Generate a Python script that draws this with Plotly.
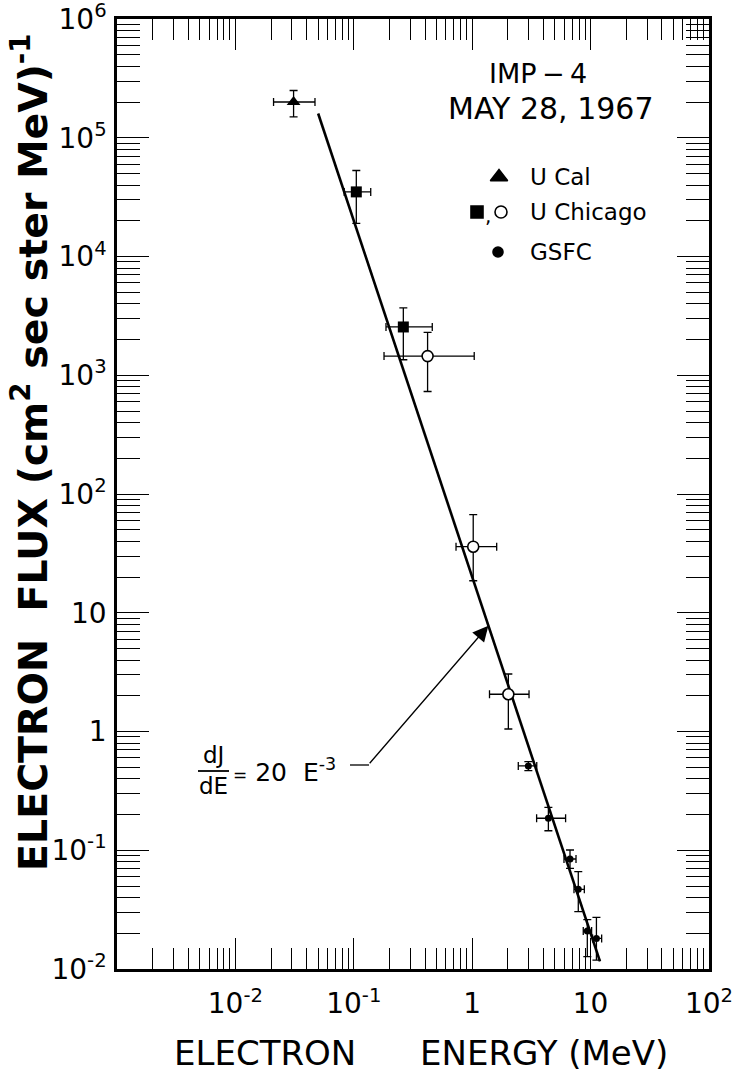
import math
import plotly.graph_objects as go

# ---------------- data ----------------
# U Cal (filled triangle)
ucal_energy = [0.031]
ucal_flux = [2.0e5]
ucal_energy_lo = [0.021]
ucal_energy_hi = [0.047]
ucal_flux_lo = [1.5e5]
ucal_flux_hi = [2.5e5]

# U Chicago, filled squares
chic_sq_energy = [0.105, 0.262]
chic_sq_flux = [3.5e4, 2.55e3]
chic_sq_energy_lo = [0.083, 0.187]
chic_sq_energy_hi = [0.139, 0.46]
chic_sq_flux_lo = [1.9e4, 1.35e3]
chic_sq_flux_hi = [5.3e4, 3.7e3]

# U Chicago, open circles
chic_oc_energy = [0.42, 1.02, 2.02]
chic_oc_flux = [1450, 36, 2.06]
chic_oc_energy_lo = [0.18, 0.73, 1.40]
chic_oc_energy_hi = [1.04, 1.61, 3.02]
chic_oc_flux_lo = [730, 18.6, 1.05]
chic_oc_flux_hi = [2300, 67, 3.05]

# GSFC (small filled dots)
gsfc_energy = [2.98, 4.40, 6.70, 7.87, 9.38, 11.2]
gsfc_flux = [0.513, 0.186, 0.0844, 0.0469, 0.0209, 0.0181]
gsfc_energy_lo = [2.45, 3.50, 5.96, 7.24, 8.67, 10.4]
gsfc_energy_hi = [3.51, 6.15, 7.53, 8.85, 10.2, 12.4]
gsfc_flux_lo = [0.468, 0.146, 0.0705, 0.0304, 0.0127, 0.0119]
gsfc_flux_hi = [0.557, 0.230, 0.1005, 0.066, 0.026, 0.0272]

# power-law fit dJ/dE = 20 E^-3
fit_coeff = 20
fit_index = -3
fit_energy_range = [0.05, 12.0]
arrow_energy = 1.37

# axis ticks
x_tick_vals = [1e-2, 1e-1, 1, 10, 100]
x_tick_text = ["10<sup>-2</sup>", "10<sup>-1</sup>", "1", "10", "10<sup>2</sup>"]
y_tick_vals = [1e-2, 1e-1, 1, 10, 1e2, 1e3, 1e4, 1e5, 1e6]
y_tick_text = ["10<sup>-2</sup>", "10<sup>-1</sup>", "1", "10", "10<sup>2</sup>",
               "10<sup>3</sup>", "10<sup>4</sup>", "10<sup>5</sup>", "10<sup>6</sup>"]

# ---------------- styling ----------------
FONT = "DejaVu Sans"
W, H = 738, 1073
L, R, T, B = 117, 29, 19, 104
PW, PH = W - L - R, H - T - B


def px(xp):
    return (xp - L) / PW


def py(yp):
    return (T + PH - yp) / PH


def series(e, f, elo, ehi, flo, fhi, marker):
    return go.Scatter(
        x=e, y=f, mode="markers", marker=marker, showlegend=False, cliponaxis=False,
        error_x=dict(type="data", symmetric=False,
                     array=[h - v for h, v in zip(ehi, e)],
                     arrayminus=[v - lo for v, lo in zip(e, elo)],
                     color="black", thickness=1.3, width=4),
        error_y=dict(type="data", symmetric=False,
                     array=[h - v for h, v in zip(fhi, f)],
                     arrayminus=[v - lo for v, lo in zip(f, flo)],
                     color="black", thickness=1.3, width=4),
    )


fig = go.Figure()

fit_flux = [fit_coeff * e ** fit_index for e in fit_energy_range]
fig.add_trace(go.Scatter(x=fit_energy_range, y=fit_flux, mode="lines",
                         line=dict(color="black", width=2.6), showlegend=False))

fig.add_trace(series(ucal_energy, ucal_flux, ucal_energy_lo, ucal_energy_hi,
                     ucal_flux_lo, ucal_flux_hi,
                     dict(symbol="triangle-up", size=12, color="black")))
fig.add_trace(series(chic_sq_energy, chic_sq_flux, chic_sq_energy_lo, chic_sq_energy_hi,
                     chic_sq_flux_lo, chic_sq_flux_hi,
                     dict(symbol="square", size=11, color="black")))
fig.add_trace(series(chic_oc_energy, chic_oc_flux, chic_oc_energy_lo, chic_oc_energy_hi,
                     chic_oc_flux_lo, chic_oc_flux_hi,
                     dict(symbol="circle", size=11, color="white",
                          line=dict(color="black", width=1.6))))
fig.add_trace(series(gsfc_energy, gsfc_flux, gsfc_energy_lo, gsfc_energy_hi,
                     gsfc_flux_lo, gsfc_flux_hi,
                     dict(symbol="circle", size=7, color="black")))

# legend keys drawn on an overlay unit axis
legend_keys = [
    (px(499), py(177), "triangle-up", 15, "black", "black"),
    (px(477), py(212), "square", 12, "black", "black"),
    (px(501), py(212), "circle", 12, "white", "black"),
    (px(498), py(252), "circle", 10, "black", "black"),
]
for kx, ky, sym, size, fill, edge in legend_keys:
    fig.add_trace(go.Scatter(x=[kx], y=[ky], xaxis="x2", yaxis="y2", mode="markers",
                             marker=dict(symbol=sym, size=size, color=fill,
                                         line=dict(color=edge, width=1.6)),
                             showlegend=False, cliponaxis=False))

minor_x = [m * 10.0 ** k for k in range(-3, 2) for m in range(2, 10)]
minor_y = [m * 10.0 ** k for k in range(-2, 6) for m in range(2, 10)]

axis_common = dict(type="log", showline=True, linecolor="black", linewidth=2.5,
                   mirror="allticks", ticks="inside", tickcolor="black", tickwidth=1.4,
                   showgrid=False, zeroline=False, tickmode="array",
                   ticklabeloverflow="allow", automargin=False,
                   tickfont=dict(family=FONT, size=28, color="black"))

fig.update_layout(
    width=W, height=H,
    margin=dict(l=L, r=R, t=T, b=B),
    paper_bgcolor="white", plot_bgcolor="white",
    font=dict(family=FONT, color="black"),
    xaxis=dict(axis_common, range=[-3, 2], tickvals=x_tick_vals, ticktext=x_tick_text,
               ticklen=31, ticklabelstandoff=8,
               minor=dict(ticks="inside", ticklen=21, tickwidth=1.4, tickcolor="black",
                          tickmode="array", tickvals=minor_x, showgrid=False)),
    yaxis=dict(axis_common, range=[-2, 6], tickvals=y_tick_vals, ticktext=y_tick_text,
               ticklen=32, ticklabelstandoff=2,
               minor=dict(ticks="inside", ticklen=23, tickwidth=1.4, tickcolor="black",
                          tickmode="array", tickvals=minor_y, showgrid=False)),
    xaxis2=dict(overlaying="x", range=[0, 1], visible=False, fixedrange=True,
                automargin=False),
    yaxis2=dict(overlaying="y", range=[0, 1], visible=False, fixedrange=True,
                automargin=False),
)

ann = []


def text(xp, yp, s, size, xanchor="center", yanchor="middle", **kw):
    ann.append(dict(xref="paper", yref="paper", x=px(xp), y=py(yp), text=s,
                    showarrow=False, xanchor=xanchor, yanchor=yanchor,
                    font=dict(family=FONT, size=size, color="black"), **kw))


# axis titles
text(265, 1053, "ELECTRON", 34)
text(544, 1053, "ENERGY (MeV)", 34)
text(30, 452, "<b>ELECTRON\u00a0\u00a0FLUX (cm<sup>2</sup> sec ster MeV)<sup>-1</sup></b>",
     39.5, textangle=-90)

# heading
text(538, 74, "IMP\u2009\u2212\u20094", 27)
text(551, 108, "MAY 28, 1967", 30)

# legend labels
text(528, 177, "U Cal", 23, xanchor="left")
text(528, 212, "U Chicago", 23, xanchor="left")
text(488, 216, ",", 20)
text(528, 252, "GSFC", 23, xanchor="left")

# fit label as a fraction
text(213, 755, "dJ", 23)
text(213, 786, "dE", 23)
text(231, 770, '<span style="font-size:17px">=</span> 20\u00a0\u00a0E<sup>-3</sup>', 25,
     xanchor="left")

# arrow from the label to the fit line
arrow_flux = fit_coeff * arrow_energy ** fit_index
ann.append(dict(x=math.log10(arrow_energy), y=math.log10(arrow_flux), xref="x", yref="y",
                ax=-120, ay=139, axref="pixel", ayref="pixel", text="",
                showarrow=True, arrowhead=2, arrowsize=2.4, arrowwidth=1.3,
                arrowcolor="black", standoff=0))
fig.update_layout(annotations=ann)

shapes = [
    dict(type="line", xref="paper", yref="paper", x0=px(198), x1=px(229),
         y0=py(771), y1=py(771), line=dict(color="black", width=1.8)),
    dict(type="line", xref="paper", yref="paper", x0=px(350), x1=px(369),
         y0=py(765), y1=py(765), line=dict(color="black", width=1.3)),
]
fig.update_layout(shapes=shapes)

fig.write_html("out.html")
